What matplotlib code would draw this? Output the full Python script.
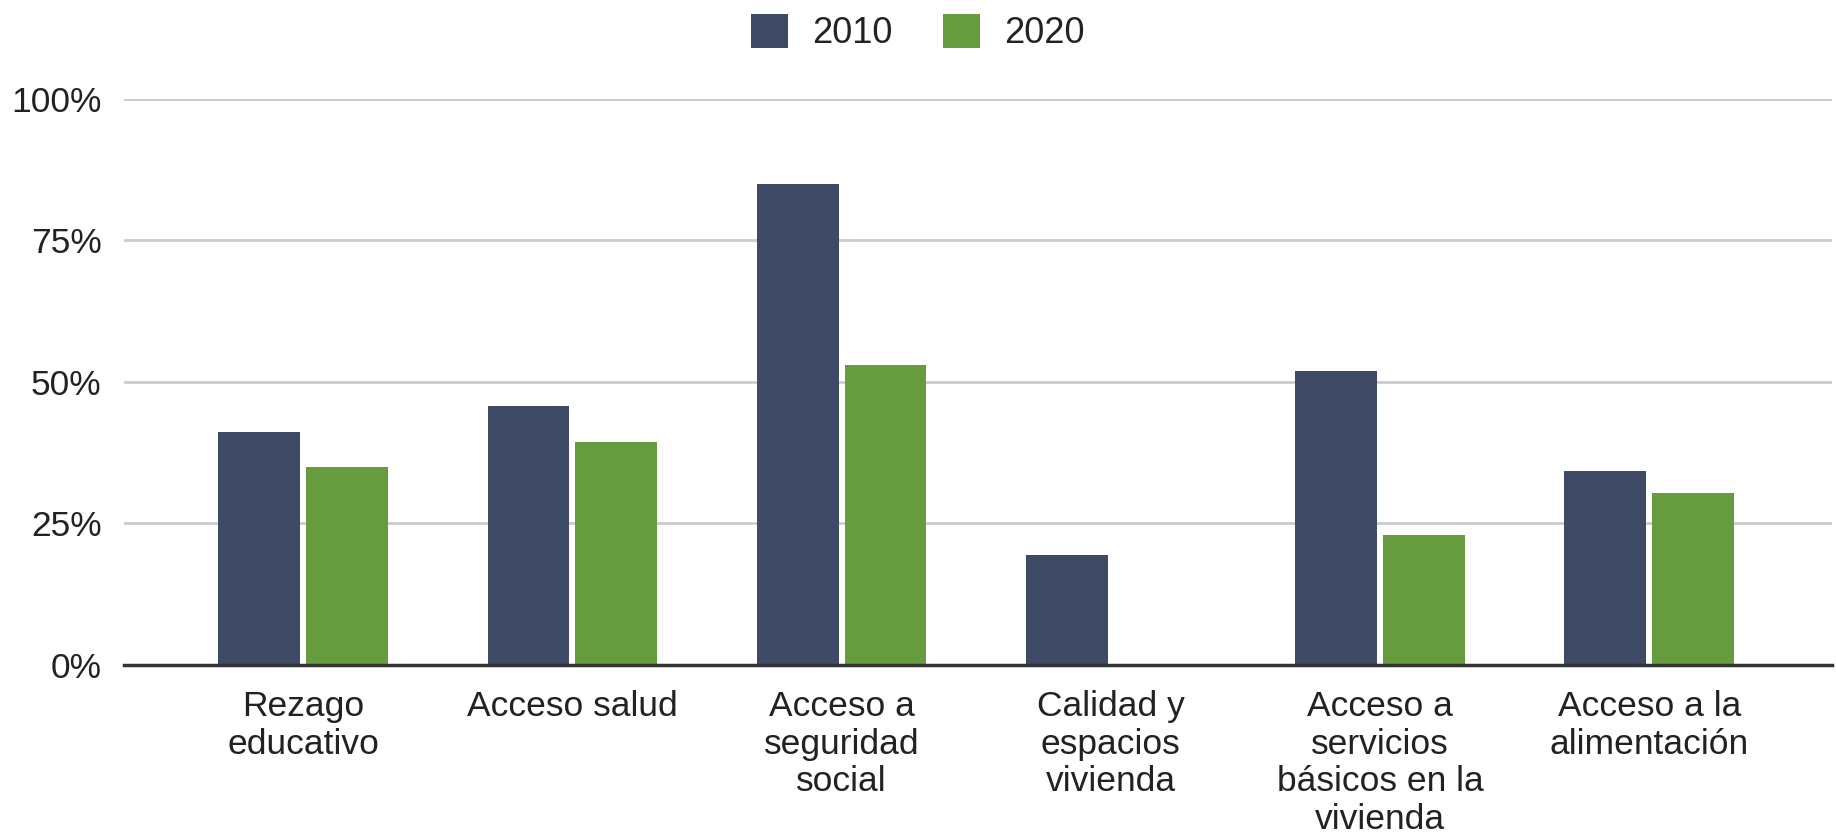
import matplotlib
matplotlib.use("Agg")
import matplotlib.pyplot as plt
import numpy as np
from matplotlib.ticker import FuncFormatter

categories = ["Rezago\neducativo", "Acceso salud", "Acceso a\nseguridad\nsocial",
              "Calidad y\nespacios\nvivienda", "Acceso a\nservicios\nbásicos en la\nvivienda",
              "Acceso a la\nalimentación"]
series_names = ["2010", "2020"]
values_2010 = [41.1, 45.7, 85.0, 19.5, 52.0, 34.3]
values_2020 = [35.0, 39.4, 53.0, np.nan, 22.9, 30.3]
y_ticks = [0, 25, 50, 75, 100]

colors = ["#3e4a66", "#679c3e"]

plt.rcParams['font.family'] = ['Liberation Sans', 'DejaVu Sans']

fig = plt.figure(figsize=(18.36, 8.36), dpi=100)
ax = fig.add_axes([0.0675, 0.2045, 0.9305, 0.6775])

x = np.arange(len(categories))
w = 0.304
off = 0.163
b1 = ax.bar(x - off, values_2010, width=w, color=colors[0], label=series_names[0], zorder=3)
b2 = ax.bar(x + off, values_2020, width=w, color=colors[1], label=series_names[1], zorder=3)

ax.set_xlim(-0.666, 5.68)
ax.set_ylim(0, 100)
ax.set_yticks(y_ticks)
ax.yaxis.set_major_formatter(FuncFormatter(lambda v, p: f"{int(v)}%"))
ax.set_xticks(x)
ax.set_xticklabels(categories, fontsize=25.5, color="#222222", linespacing=1.18)
ax.tick_params(axis='x', length=0, pad=18)
ax.tick_params(axis='y', length=0, pad=16, labelsize=25.5, labelcolor="#222222")

ax.grid(axis='y', color="#cccccc", linewidth=2, zorder=0)
for s in ["top", "right", "left"]:
    ax.spines[s].set_visible(False)
ax.spines["bottom"].set_color("#333333")
ax.spines["bottom"].set_linewidth(2.5)
ax.spines["bottom"].set_zorder(4)

leg = fig.legend(handles=[b1, b2], labels=series_names, loc="center",
                 bbox_to_anchor=(0.5, 0.961), ncol=2, frameon=False,
                 fontsize=26, handlelength=1.02, handleheight=1.05,
                 handletextpad=0.67, columnspacing=1.39)
for t in leg.get_texts():
    t.set_color("#222222")

fig.savefig("out.png", dpi=100, facecolor="white")
